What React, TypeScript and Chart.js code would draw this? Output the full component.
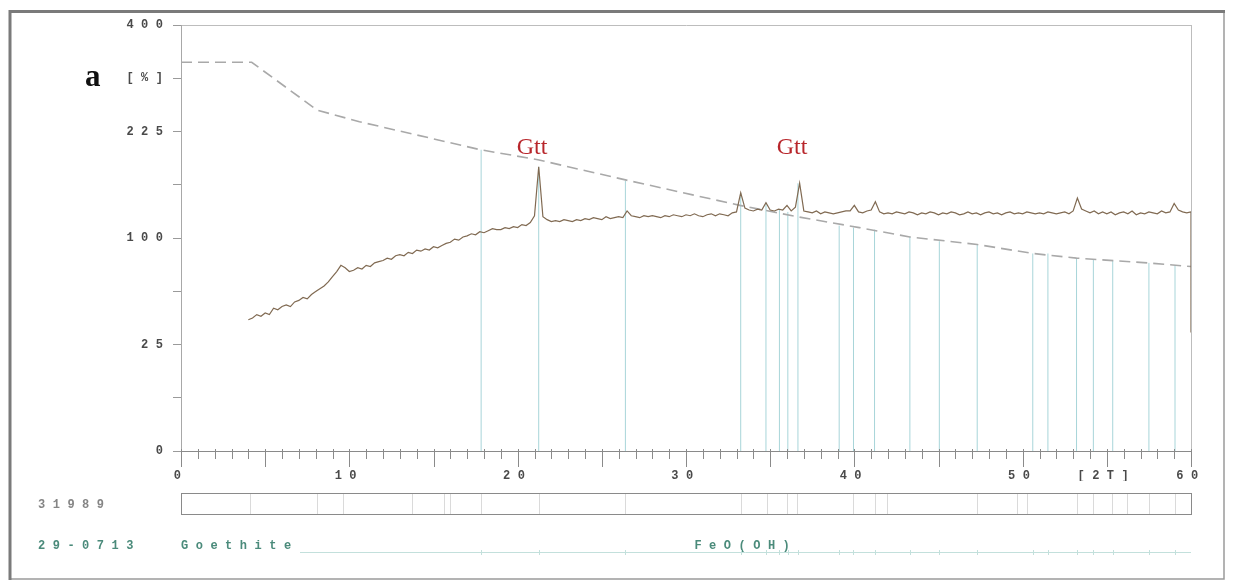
import React, { useEffect, useRef } from 'react';
import { Chart, registerables, LinearScale } from 'chart.js';

Chart.register(...registerables);

// square-root intensity scale (counts plotted on sqrt axis)
class SqrtScale extends LinearScale {
  static id = 'sqrt';
  getPixelForValue(value: any) {
    if (value === null || value === undefined || isNaN(value)) return NaN;
    const lo = Math.sqrt(Math.max(this.min, 0));
    const hi = Math.sqrt(this.max);
    return this.getPixelForDecimal((Math.sqrt(Math.max(value, 0)) - lo) / (hi - lo));
  }
  getValueForPixel(pixel: number) {
    const d = this.getDecimalForPixel(pixel);
    const lo = Math.sqrt(Math.max(this.min, 0));
    const hi = Math.sqrt(this.max);
    const s = lo + d * (hi - lo);
    return s * s;
  }
}
Chart.register(SqrtScale as any);

// ---------------- data ----------------
const scanStart = 4.0;
const scanStep = 0.25;
const scanCounts = [
  38, 39, 41, 40,
  42, 41, 45, 44,
  46, 47, 46, 49,
  50, 52, 51, 54,
  56, 58, 60, 63,
  67, 71, 76, 74,
  71, 72, 74, 73,
  76, 75, 78, 79,
  80, 82, 81, 84,
  85, 84, 87, 86,
  89, 88, 90, 89,
  92, 91, 93, 95,
  96, 99, 98, 101,
  102, 104, 103, 106,
  105, 107, 109, 108,
  108, 110, 109, 111,
  110, 113, 112, 115,
  122, 178, 121, 118,
  116, 117, 116, 118,
  117, 116, 118, 117,
  119, 118, 120, 119,
  118, 121, 119, 120,
  121, 120, 127, 122,
  121, 120, 122, 121,
  122, 121, 120, 122,
  121, 123, 122, 121,
  123, 122, 124, 122,
  121, 123, 124, 122,
  124, 123, 122, 125,
  126, 147, 130, 128,
  127, 129, 128, 136,
  128, 127, 129, 128,
  133, 127, 131, 158,
  127, 126, 125, 127,
  124, 126, 125, 124,
  125, 126, 127, 127,
  133, 126, 125, 127,
  128, 137, 126, 124,
  125, 124, 126, 125,
  124, 126, 125, 123,
  125, 124, 126, 125,
  123, 125, 124, 126,
  125, 123, 124, 126,
  124, 125, 123, 125,
  126, 124, 125, 123,
  125, 126, 124, 125,
  124, 126, 125, 124,
  125, 124, 126, 125,
  124, 125, 126, 124,
  127, 141, 129, 127,
  125, 127, 124, 126,
  124, 126, 123, 125,
  126, 124, 127, 123,
  125, 124, 126, 125,
  124, 127, 125, 126,
  135, 128, 126, 125,
  126,
];
const scanTailAngle = 60;
const scanTailCount = 31;

const dashedAngles = [0, 4.2, 8.1, 10.6, 17.8, 21.2, 26.4, 33.2, 36.6, 40.3, 43.3, 47.3, 50.6, 53.2, 57.4, 60];
const dashedCounts = [333, 333, 256, 239, 200, 187, 162, 133, 121, 110, 101, 94, 86, 82, 78, 75];

const stickAngles = [17.83, 21.25, 26.4, 33.25, 34.75, 35.55, 36.05, 36.65, 39.1, 39.95, 41.2, 43.3, 45.05, 47.3, 50.6, 51.5, 53.2, 54.2, 55.35, 57.5, 59.05];
const stickCounts = [200, 178, 161, 147, 136, 128, 126, 158, 112, 110, 108, 101, 97, 94, 86, 86, 82, 81, 80, 78, 76];

const peakMarkers = [4.1, 8.1, 9.6, 13.7, 15.6, 16.0, 17.8, 21.25, 26.4, 33.25, 34.8, 36.0, 36.6, 39.95, 41.25, 41.95, 47.3, 49.65, 50.25, 53.25, 54.2, 55.3, 56.2, 57.5, 59.05];

const yTickValues = [0, 6.25, 25, 56.25, 100, 156.25, 225, 306.25, 400];
const yTickLabels = ['0', '', '25', '', '100', '', '225', '[%]', '400'];
const xTickValues = [0, 10, 20, 30, 40, 50, 55, 60];
const xTickLabels = ['0', '10', '20', '30', '40', '50', '[2T]', '60'];

const gttAngles = [20.85, 36.3];
const gttText = 'Gtt';
const panelLetter = 'a';
const scanId = '31989';
const refCode = '29-0713';
const refName = 'Goethite';
const refFormula = 'FeO(OH)';
const refFormulaAngle = 30.5;

const MONO = '"Liberation Mono", "DejaVu Sans Mono", monospace';
const SERIF = '"Liberation Serif", "DejaVu Serif", serif';
const SPACING = '7.5px';

export default function App() {
  const ref = useRef<HTMLCanvasElement | null>(null);

  useEffect(() => {
    const canvas = ref.current;
    if (!canvas) return;

    const scanData: any[] = scanCounts.map((c, i) => ({ x: scanStart + i * scanStep, y: c }));
    scanData.push({ x: scanTailAngle, y: scanTailCount });
    const dashedData = dashedAngles.map((a, i) => ({ x: a, y: dashedCounts[i] }));
    const stickData: any[] = [];
    stickAngles.forEach((a, i) => {
      stickData.push({ x: a, y: 0 });
      stickData.push({ x: a, y: stickCounts[i] });
      stickData.push({ x: a, y: null });
    });

    const decor = {
      id: 'decor',
      beforeDraw(chart: any) {
        chart.ctx.letterSpacing = SPACING;
      },
      afterDraw(chart: any) {
        const ctx = chart.ctx as CanvasRenderingContext2D & { letterSpacing: string };
        const xs = chart.scales.x;
        const area = chart.chartArea;
        const x0 = xs.getPixelForValue(0);
        const x60 = xs.getPixelForValue(60);
        ctx.save();
        // x tick marks
        ctx.strokeStyle = '#8a8a8a';
        ctx.lineWidth = 1;
        for (let v = 0; v <= 60; v++) {
          const px = Math.round(xs.getPixelForValue(v)) + 0.5;
          const len = v % 5 === 0 ? 16 : 8;
          ctx.beginPath();
          ctx.moveTo(px, area.bottom - 2);
          ctx.lineTo(px, area.bottom + len);
          ctx.stroke();
        }
        // 31989 peak-list box
        const boxTop = 493.5, boxH = 21;
        ctx.strokeStyle = '#dadada';
        peakMarkers.forEach((a) => {
          const px = Math.round(xs.getPixelForValue(a)) + 0.5;
          ctx.beginPath();
          ctx.moveTo(px, boxTop);
          ctx.lineTo(px, boxTop + boxH);
          ctx.stroke();
        });
        ctx.strokeStyle = '#8a8a8a';
        ctx.strokeRect(Math.round(x0) + 0.5, boxTop, Math.round(x60 - x0), boxH);

        // texts in mono
        ctx.letterSpacing = SPACING;
        ctx.font = `bold 12px ${MONO}`;
        ctx.textBaseline = 'middle';
        ctx.textAlign = 'left';
        ctx.fillStyle = '#858585';
        ctx.fillText(scanId, 38, 505);
        ctx.fillStyle = '#4b8b7b';
        ctx.fillText(refCode, 38, 546);
        ctx.fillText(refName, x0, 546);
        ctx.fillText(refFormula, xs.getPixelForValue(refFormulaAngle), 546);

        // reference line in Goethite row
        ctx.strokeStyle = '#c3e0dc';
        ctx.beginPath();
        ctx.moveTo(300, 552.5);
        ctx.lineTo(x60, 552.5);
        ctx.stroke();
        stickAngles.forEach((a) => {
          const px = Math.round(xs.getPixelForValue(a)) + 0.5;
          ctx.beginPath();
          ctx.moveTo(px, 550);
          ctx.lineTo(px, 555);
          ctx.stroke();
        });

        // panel letter and phase labels
        ctx.letterSpacing = '0px';
        ctx.textBaseline = 'alphabetic';
        ctx.fillStyle = '#111';
        ctx.font = `bold 31px ${SERIF}`;
        ctx.textAlign = 'left';
        ctx.fillText(panelLetter, 85, 86);
        ctx.fillStyle = '#b8262b';
        ctx.font = `24px ${SERIF}`;
        ctx.textAlign = 'center';
        gttAngles.forEach((a) => ctx.fillText(gttText, xs.getPixelForValue(a), 154));

        // outer frame
        ctx.strokeStyle = '#9a9a9a';
        ctx.lineWidth = 1.5;
        ctx.beginPath();
        ctx.moveTo(1224, 11);
        ctx.lineTo(1224, 579);
        ctx.lineTo(9, 579);
        ctx.stroke();
        ctx.strokeStyle = '#7a7a7a';
        ctx.lineWidth = 3;
        ctx.beginPath();
        ctx.moveTo(10, 580);
        ctx.lineTo(10, 11.5);
        ctx.lineTo(1225, 11.5);
        ctx.stroke();
        ctx.restore();
      },
    };

    const chart = new Chart(canvas, {
      type: 'line',
      data: {
        datasets: [
          {
            label: 'scan',
            data: scanData,
            borderColor: '#806a52',
            borderWidth: 1.2,
            pointRadius: 0,
            tension: 0,
            order: 0,
          },
          {
            label: 'background',
            data: dashedData,
            borderColor: '#a9a9a9',
            borderWidth: 1.6,
            borderDash: [11, 6],
            pointRadius: 0,
            tension: 0,
            order: 1,
          },
          {
            label: 'Goethite 29-0713',
            data: stickData,
            borderColor: '#a8d5d9',
            borderWidth: 1,
            pointRadius: 0,
            spanGaps: false,
            order: 2,
          },
        ],
      } as any,
      options: {
        responsive: false,
        animation: false,
        layout: { padding: { left: 121, top: 25, right: 42, bottom: 103 } },
        plugins: { legend: { display: false }, tooltip: { enabled: false } },
        scales: {
          x: {
            type: 'linear',
            min: 0,
            max: 60,
            afterFit(s: any) { s.height = 30; },
            afterBuildTicks(s: any) { s.ticks = xTickValues.map((v) => ({ value: v })); },
            ticks: {
              autoSkip: false,
              maxRotation: 0,
              padding: 6,
              color: '#4a4a4a',
              font: { family: MONO, size: 12, weight: 'bold' },
              callback: (_v: any, i: number) => xTickLabels[i],
            },
            grid: {
              display: true,
              drawOnChartArea: true,
              drawTicks: true,
              tickLength: 12,
              tickColor: 'transparent',
              color: (c: any) => (c.tick && c.tick.value === 60 ? '#bdbdbd' : 'transparent'),
            },
            border: { display: true, color: '#8a8a8a', width: 1 },
          },
          y: {
            type: 'sqrt',
            min: 0,
            max: 400,
            afterFit(s: any) { s.width = 60; },
            afterBuildTicks(s: any) { s.ticks = yTickValues.map((v) => ({ value: v })); },
            ticks: {
              autoSkip: false,
              padding: 2.5,
              color: '#4a4a4a',
              font: { family: MONO, size: 12, weight: 'bold' },
              callback: (_v: any, i: number) => yTickLabels[i],
            },
            grid: {
              display: true,
              drawOnChartArea: true,
              drawTicks: true,
              tickLength: 8,
              tickColor: '#9a9a9a',
              color: (c: any) => (c.tick && c.tick.value === 400 ? '#bdbdbd' : 'transparent'),
            },
            border: { display: true, color: '#a8a8a8', width: 1 },
          },
        } as any,
      },
      plugins: [decor],
    });

    return () => chart.destroy();
  }, []);

  return (
    <div style={{ position: 'fixed', left: 0, top: 0, width: 1233, height: 584, background: '#fff' }}>
      <canvas ref={ref} width={1233} height={584} style={{ display: 'block' }} />
    </div>
  );
}
